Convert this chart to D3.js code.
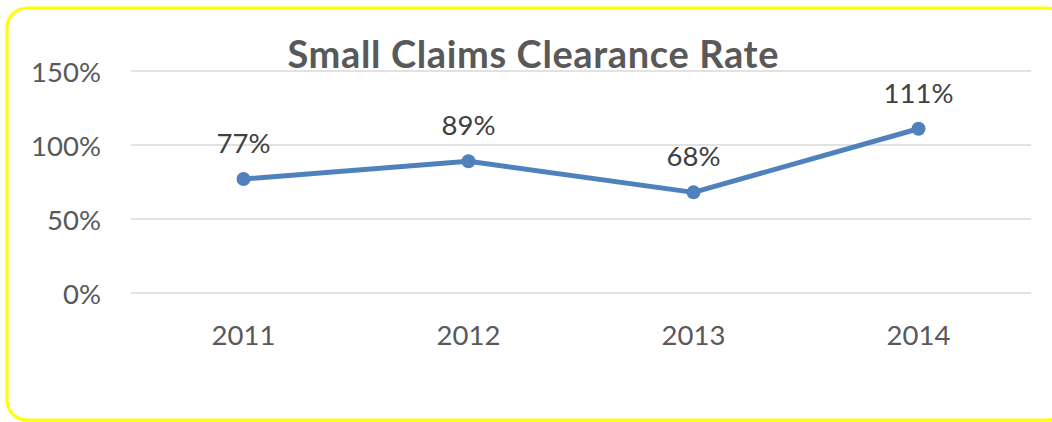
<!DOCTYPE html>
<html lang="en">
<head>
<meta charset="UTF-8">
<title>Small Claims Clearance Rate</title>
<script src="https://d3js.org/d3.v7.min.js"></script>
<style>
    html, body { margin: 0; padding: 0; background: #fff; }
    svg { display: block; font-family: Lato, "Open Sans", sans-serif; }
</style>
</head>
<body>
<svg id="chart"></svg>
<script>
    const years = ["2011", "2012", "2013", "2014"];
    const rates = [0.77, 0.89, 0.68, 1.11];
    const yTicks = [0, 0.5, 1, 1.5];

    const width = 1052, height = 422;
    const margin = { top: 71, right: 21, bottom: 129, left: 131 };

    const svg = d3.select("#chart").attr("width", width).attr("height", height);

    // yellow rounded frame
    svg.append("rect")
        .attr("x", 7).attr("y", 8)
        .attr("width", 1060).attr("height", 412)
        .attr("rx", 20).attr("ry", 20)
        .attr("fill", "#fff")
        .attr("stroke", "#FFFF00")
        .attr("stroke-width", 3);

    const x = d3.scaleBand().domain(years).range([margin.left, width - margin.right]);
    const y = d3.scaleLinear().domain([0, 1.5]).range([height - margin.bottom, margin.top]);

    const pct = d3.format(".0%");

    // gridlines
    svg.append("g").selectAll("line")
        .data(yTicks)
        .enter().append("line")
        .attr("x1", margin.left).attr("x2", width - margin.right)
        .attr("y1", d => y(d)).attr("y2", d => y(d))
        .attr("stroke", "#d9d9d9")
        .attr("stroke-width", 1.5);

    // y labels
    svg.append("g").selectAll("text")
        .data(yTicks)
        .enter().append("text")
        .attr("x", 101)
        .attr("y", d => y(d) + 11)
        .attr("text-anchor", "end")
        .attr("font-size", 27.5)
        .attr("fill", "#595959")
        .text(d => pct(d));

    // x labels
    svg.append("g").selectAll("text")
        .data(years)
        .enter().append("text")
        .attr("x", d => x(d) + x.bandwidth() / 2)
        .attr("y", 345)
        .attr("text-anchor", "middle")
        .attr("font-size", 27.5)
        .attr("fill", "#595959")
        .text(d => d);

    const cx = (d, i) => x(years[i]) + x.bandwidth() / 2;

    svg.append("path")
        .datum(rates)
        .attr("fill", "none")
        .attr("stroke", "#4F81BD")
        .attr("stroke-width", 5)
        .attr("stroke-linejoin", "round")
        .attr("d", d3.line().x(cx).y(d => y(d)));

    svg.append("g").selectAll("circle")
        .data(rates)
        .enter().append("circle")
        .attr("cx", cx)
        .attr("cy", d => y(d))
        .attr("r", 7)
        .attr("fill", "#4F81BD");

    svg.append("g").selectAll("text")
        .data(rates)
        .enter().append("text")
        .attr("x", cx)
        .attr("y", d => y(d) - 26)
        .attr("text-anchor", "middle")
        .attr("font-size", 27.5)
        .attr("fill", "#404040")
        .text(d => pct(d));

    svg.append("text")
        .attr("x", 533)
        .attr("y", 68)
        .attr("text-anchor", "middle")
        .attr("font-size", 38)
        .attr("font-weight", "bold")
        .attr("fill", "#595959")
        .attr("textLength", 491)
        .attr("lengthAdjust", "spacing")
        .text("Small Claims Clearance Rate");
</script>
</body>
</html>
